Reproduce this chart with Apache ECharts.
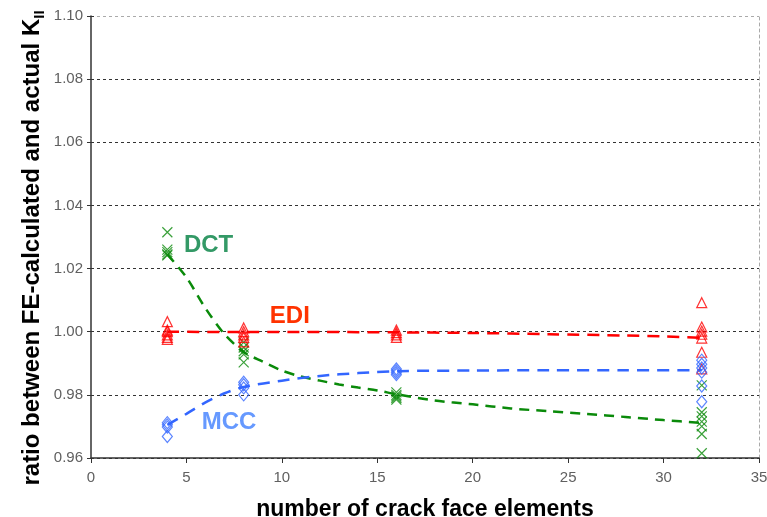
<!DOCTYPE html>
<html>
<head>
<meta charset="utf-8">
<script src="https://cdn.jsdelivr.net/npm/echarts@6/dist/echarts.min.js"></script>
<style>
html,body{margin:0;padding:0;background:#fff;}
#chart{width:767px;height:517px;}
</style>
</head>
<body>
<div id="chart"></div>
<script>
// ---- data ----
const meshSizes = [4, 8, 16, 32];

// individual results (DCT: crosses, EDI: triangles, MCC: diamonds)
const dctValues = [
  [1.0315, 1.0260, 1.0252, 1.0245, 1.0242],
  [0.9966, 0.9950, 0.9938, 0.9928, 0.9903],
  [0.9808, 0.9800, 0.9795, 0.9790, 0.9785],
  [0.9830, 0.9745, 0.9732, 0.9715, 0.9700, 0.9676, 0.9615]
];
const ediValues = [
  [1.0032, 1.0005, 1.0000, 0.9990, 0.9982, 0.9976],
  [1.0012, 1.0000, 0.9990, 0.9982, 0.9968],
  [1.0005, 0.9997, 0.9990, 0.9982],
  [1.0092, 1.0015, 1.0002, 0.9992, 0.9980, 0.9935, 0.9882]
];
const mccValues = [
  [0.9712, 0.9705, 0.9698, 0.9668],
  [0.9840, 0.9832, 0.9822, 0.9800],
  [0.9882, 0.9876, 0.9870, 0.9864],
  [0.9910, 0.9897, 0.9885, 0.9872, 0.9828, 0.9778]
];

// dashed trend curves
const dctTrendX = [4, 5, 6, 7, 8, 9, 10, 11, 12, 13, 14, 15, 16, 18, 20, 22, 24, 26, 28, 30, 32];
const dctTrendY = [1.0245, 1.0172, 1.0074, 0.9992, 0.9936, 0.9905, 0.9877, 0.9858, 0.9845, 0.9833, 0.9823, 0.9814, 0.9802, 0.9782, 0.9770, 0.9757, 0.9748, 0.9739, 0.9730, 0.9720, 0.9711];
const ediTrendX = [4, 8, 12, 16, 20, 24, 28, 30, 32];
const ediTrendY = [1.0000, 0.9999, 0.9999, 0.9998, 0.9996, 0.9992, 0.9988, 0.9985, 0.9981];
const mccTrendX = [4, 5, 6, 7, 8, 10, 12, 14, 16, 20, 24, 28, 32];
const mccTrendY = [0.9705, 0.9740, 0.9776, 0.9805, 0.9825, 0.9845, 0.9860, 0.9869, 0.9875, 0.9877, 0.9878, 0.9878, 0.9878];

// axis ticks
const yTickMin = 0.96, yTickMax = 1.10, yTickStep = 0.02;
const xTickMin = 0, xTickMax = 35, xTickStep = 5;

// method labels: [text, x, y] in data units
const methodLabels = [
  ['DCT', 4.87, 1.0275],
  ['EDI', 9.37, 1.0050],
  ['MCC', 5.80, 0.9714]
];

// ---- build ----
const FONT = '"Liberation Sans", Arial, sans-serif';
function toPairs(xs, groups) {
  const out = [];
  groups.forEach((g, i) => g.forEach(v => out.push([xs[i], v])));
  return out;
}
function zip(xs, ys) { return xs.map((x, i) => [x, ys[i]]); }

const crossPath = 'path://M0,0L10,10M10,0L0,10';
const GREEN = '#0a8a0a', RED = '#ff0000', BLUE = '#3366ff';

function labelPoint(idx, color) {
  const l = methodLabels[idx];
  return {
    silent: true,
    symbol: 'circle', symbolSize: 0,
    label: {
      show: true, position: 'right', distance: 0,
      formatter: l[0], color: color, fontSize: 24, fontWeight: 'bold', fontFamily: FONT
    },
    data: [{ coord: [l[1], l[2]] }]
  };
}

const chart = echarts.init(document.getElementById('chart'), null, { renderer: 'canvas' });
const yAxisBase = { type: 'value', min: yTickMin, max: yTickMax, interval: yTickStep };

chart.setOption({
  animation: false,
  backgroundColor: '#ffffff',
  grid: { left: 91, right: 8, top: 16, bottom: 59, containLabel: false, outerBoundsMode: 'none' },
  xAxis: {
    type: 'value', min: xTickMin, max: xTickMax, interval: xTickStep,
    name: 'number of crack face elements', nameLocation: 'middle', nameGap: 40,
    nameMoveOverlap: false,
    nameTextStyle: { fontSize: 23, fontWeight: 'bold', color: '#000', fontFamily: FONT },
    axisLine: { lineStyle: { color: '#333', width: 1.5 } },
    axisTick: { show: true, length: 5, lineStyle: { color: '#333' } },
    axisLabel: { margin: 12, fontSize: 15, color: '#606060', fontFamily: FONT },
    splitLine: { show: false }
  },
  yAxis: [
    Object.assign({}, yAxisBase, {
      position: 'left',
      name: '{a|ratio between FE-calculated and actual K}{b|II}',
      nameLocation: 'middle', nameGap: 44, nameRotate: 90,
      nameMoveOverlap: false,
      nameTextStyle: {
        padding: [0, 22, 0, 0],
        rich: {
          a: { fontSize: 24, fontWeight: 'bold', color: '#000', fontFamily: FONT, lineHeight: 30 },
          b: { fontSize: 15, fontWeight: 'bold', color: '#000', fontFamily: FONT, lineHeight: 14, verticalAlign: 'bottom' }
        }
      },
      axisLine: { show: true, lineStyle: { color: '#333', width: 1.5 } },
      axisTick: { show: true, length: 4, lineStyle: { color: '#333' } },
      axisLabel: { margin: 8, fontSize: 15, color: '#606060', fontFamily: FONT, formatter: v => v.toFixed(2) },
      splitLine: {
        show: true,
        lineStyle: { type: [3, 3], width: 1, color: ['#333', '#333', '#333', '#333', '#333', '#333', '#333', '#aaa'] }
      }
    }),
    Object.assign({}, yAxisBase, {
      position: 'left', offset: 0,
      axisLine: { show: false },
      axisTick: { show: true, inside: true, length: 3, lineStyle: { color: '#333' } },
      axisLabel: { show: false },
      splitLine: { show: false }
    }),
    Object.assign({}, yAxisBase, {
      position: 'right', offset: 0,
      axisLine: { show: true, lineStyle: { color: '#aaa', type: [3, 3], width: 1 } },
      axisTick: { show: false },
      axisLabel: { show: false },
      splitLine: { show: false }
    })
  ],
  series: [
    {
      name: 'DCT trend', type: 'line', smooth: 0.3, showSymbol: false, symbol: 'none',
      data: zip(dctTrendX, dctTrendY),
      lineStyle: { color: GREEN, width: 2.5, type: [10, 7] },
      markPoint: labelPoint(0, '#339966'), z: 3
    },
    {
      name: 'EDI trend', type: 'line', smooth: 0.3, showSymbol: false, symbol: 'none',
      data: zip(ediTrendX, ediTrendY),
      lineStyle: { color: RED, width: 2.5, type: [12, 8] },
      markPoint: labelPoint(1, '#ff3300'), z: 3
    },
    {
      name: 'MCC trend', type: 'line', smooth: 0.3, showSymbol: false, symbol: 'none',
      data: zip(mccTrendX, mccTrendY),
      lineStyle: { color: BLUE, width: 2.5, type: [12, 8] },
      markPoint: labelPoint(2, '#6699ff'), z: 3
    },
    {
      name: 'DCT', type: 'scatter', symbol: crossPath, symbolSize: 10,
      data: toPairs(meshSizes, dctValues),
      itemStyle: { color: 'rgba(0,0,0,0)', borderColor: GREEN, borderWidth: 1.2 }, z: 4
    },
    {
      name: 'EDI', type: 'scatter', symbol: 'triangle', symbolSize: [10, 10],
      data: toPairs(meshSizes, ediValues),
      itemStyle: { color: 'rgba(0,0,0,0)', borderColor: RED, borderWidth: 1.2 }, z: 4
    },
    {
      name: 'MCC', type: 'scatter', symbol: 'diamond', symbolSize: [10, 12],
      data: toPairs(meshSizes, mccValues),
      itemStyle: { color: 'rgba(0,0,0,0)', borderColor: BLUE, borderWidth: 1.2 }, z: 4
    }
  ]
});
</script>
</body>
</html>
